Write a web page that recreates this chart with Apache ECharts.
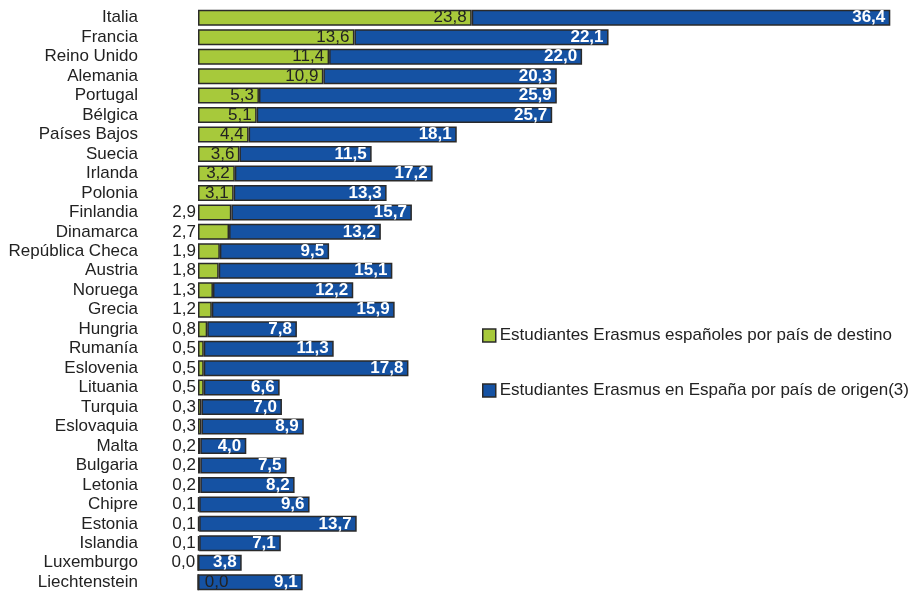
<!DOCTYPE html>
<html>
<head>
<meta charset="utf-8">
<script src="https://cdn.jsdelivr.net/npm/echarts@6/dist/echarts.min.js"></script>
<style>
  html, body { margin: 0; padding: 0; background: #fff; }
  #chart { width: 922px; height: 592px; }
</style>
</head>
<body>
<div id="chart"></div>
<script>
var paises = [
  "Italia", "Francia", "Reino Unido", "Alemania", "Portugal", "Bélgica",
  "Países Bajos", "Suecia", "Irlanda", "Polonia", "Finlandia", "Dinamarca",
  "República Checa", "Austria", "Noruega", "Grecia", "Hungria", "Rumanía",
  "Eslovenia", "Lituania", "Turquia", "Eslovaquia", "Malta", "Bulgaria",
  "Letonia", "Chipre", "Estonia", "Islandia", "Luxemburgo", "Liechtenstein"
];
// Estudiantes Erasmus españoles por país de destino
var destino = [
  23.8, 13.6, 11.4, 10.9, 5.3, 5.1, 4.4, 3.6, 3.2, 3.1, 2.9, 2.7, 1.9, 1.8, 1.3,
  1.2, 0.8, 0.5, 0.5, 0.5, 0.3, 0.3, 0.2, 0.2, 0.2, 0.1, 0.1, 0.1, 0.0, 0.0
];
// Estudiantes Erasmus en España por país de origen
var origen = [
  36.4, 22.1, 22.0, 20.3, 25.9, 25.7, 18.1, 11.5, 17.2, 13.3, 15.7, 13.2, 9.5,
  15.1, 12.2, 15.9, 7.8, 11.3, 17.8, 6.6, 7.0, 8.9, 4.0, 7.5, 8.2, 9.6, 13.7,
  7.1, 3.8, 9.1
];
var nombres = [
  "Estudiantes Erasmus españoles por país de destino",
  "Estudiantes Erasmus en España por país de origen(3)"
];

function fmt(v) {
  return v.toFixed(1).replace(".", ",");
}

var FONT = "Liberation Sans, Arial, sans-serif";

// etiqueta del tramo verde: dentro si cabe, si no a la izquierda
var destinoData = destino.map(function (v, i) {
  var pos = v >= 3 ? "insideRight" : "left";
  if (i === destino.length - 1) pos = "right";
  return {
    value: v,
    label: {
      position: pos,
      distance: pos === "insideRight" ? 5 : (pos === "right" ? 6 : 2)
    }
  };
});

var chart = echarts.init(document.getElementById("chart"));
var option = {
  animation: false,
  textStyle: { fontFamily: FONT },
  legend: {
    orient: "vertical",
    left: 477,
    top: 322,
    itemGap: 38,
    itemWidth: 13,
    itemHeight: 13,
    icon: "rect",
    data: nombres,
    itemStyle: { borderColor: "#2a2a2a", borderWidth: 1.5 },
    textStyle: { fontSize: 17, color: "#222", fontFamily: FONT, padding: [0, 0, 0, -1] }
  },
  grid: {
    left: 198,
    top: 8,
    width: 713,
    height: 586,
    containLabel: false
  },
  xAxis: {
    type: "value",
    min: 0,
    max: 62,
    show: false
  },
  yAxis: {
    type: "category",
    inverse: true,
    data: paises,
    axisLine: { show: false },
    axisTick: { show: false },
    splitLine: { show: false },
    axisLabel: {
      interval: 0,
      margin: 60,
      fontSize: 17,
      color: "#222",
      fontFamily: FONT
    }
  },
  series: [
    {
      name: nombres[0],
      type: "bar",
      stack: "total",
      barWidth: 16,
      data: destinoData,
      itemStyle: {
        color: "#a7c93b",
        borderColor: "#2a2a2a",
        borderWidth: 1.5
      },
      label: {
        show: true,
        color: "#222",
        fontSize: 17,
        fontFamily: FONT,
        formatter: function (p) { return fmt(p.value); }
      }
    },
    {
      name: nombres[1],
      type: "bar",
      stack: "total",
      barWidth: 16,
      data: origen,
      itemStyle: {
        color: "#1552a3",
        borderColor: "#2a2a2a",
        borderWidth: 1.5
      },
      label: {
        show: true,
        position: "insideRight",
        distance: 5,
        color: "#fff",
        fontWeight: "bold",
        fontSize: 17,
        fontFamily: FONT,
        formatter: function (p) { return fmt(p.value); }
      }
    }
  ]
};
chart.setOption(option);
</script>
</body>
</html>
